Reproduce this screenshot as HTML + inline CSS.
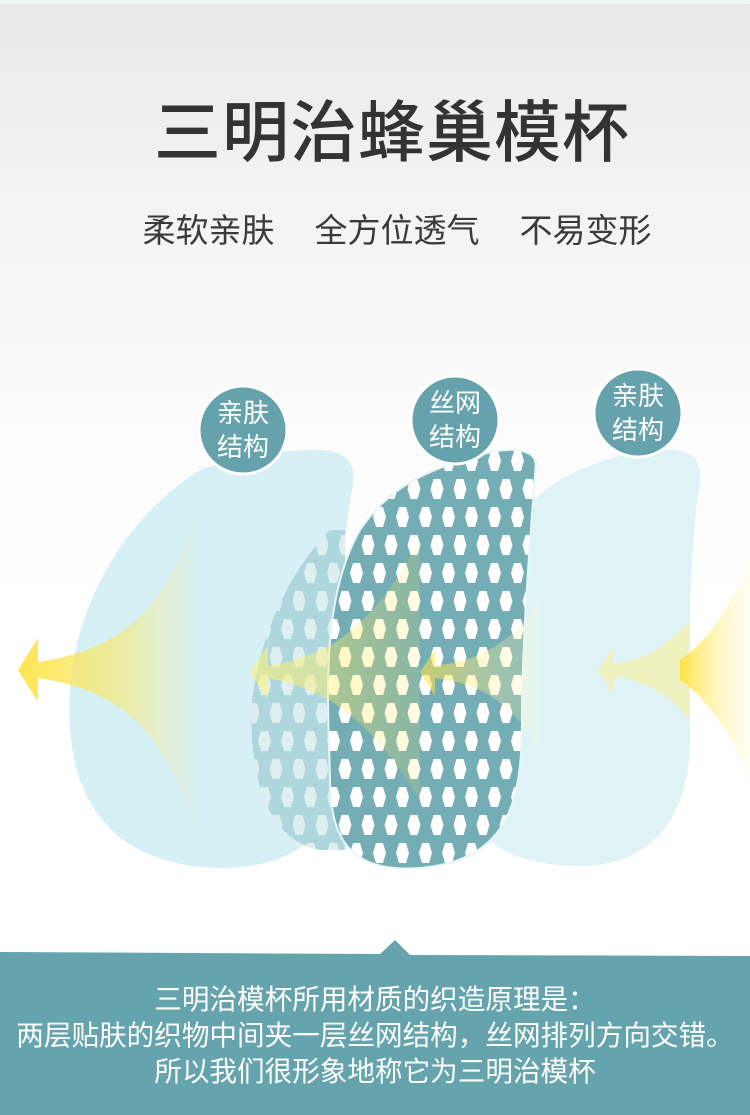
<!DOCTYPE html>
<html><head><meta charset="utf-8"><style>
html,body{margin:0;padding:0}
body{width:750px;height:1115px;position:relative;overflow:hidden;background:linear-gradient(#e9e9e9 0px,#f3f3f3 200px,#fbfbfb 400px,#fff 600px);font-family:"Liberation Sans","Noto Sans CJK SC",sans-serif}
.t{position:absolute;left:0;width:750px;text-align:center}
</style></head><body>
<div style="position:absolute;left:0;top:0;width:750px;height:4px;background:#eef5f3"></div>
<div class="t" style="top:96px;left:17px;font-size:67px;color:#333;letter-spacing:1px;line-height:76px;font-weight:500">三明治蜂巢模杯</div>
<div class="t" style="top:210px;left:22px;font-size:33px;color:#3a3a3a;line-height:42px">柔软亲肤<span style="display:inline-block;width:40px"></span>全方位透气<span style="display:inline-block;width:40px"></span>不易变形</div>
<svg width="750" height="1115" style="position:absolute;left:0;top:0">
<defs>
<pattern id="hex" x="0" y="0" width="23" height="56" patternUnits="userSpaceOnUse">
<polygon points="8,3 15,3 18,13 15,23 8,23 5,13" fill="#fff"/>
<polygon points="19.5,31 26.5,31 29.5,41 26.5,51 19.5,51 16.5,41" fill="#fff"/>
<polygon points="-3.5,31 3.5,31 6.5,41 3.5,51 -3.5,51 -6.5,41" fill="#fff"/>
</pattern>
<linearGradient id="ya" x1="0" x2="1"><stop offset="0" stop-color="#ffe23a"/><stop offset="0.6" stop-color="#f5e97a" stop-opacity=".7"/><stop offset="1" stop-color="#fff59a" stop-opacity="0"/></linearGradient>
<linearGradient id="yb" x1="0" x2="1"><stop offset="0" stop-color="#fff37a" stop-opacity=".9"/><stop offset="1" stop-color="#ffe850" stop-opacity=".2"/></linearGradient>
<linearGradient id="yc" x1="0" x2="1"><stop offset="0" stop-color="#ffe23a"/><stop offset="1" stop-color="#fffbd0" stop-opacity=".3"/></linearGradient>
<clipPath id="mc"><path d="M470,458 C500,448 530,445 536,462 C530,540 522,640 522,720 C522,800 510,860 420,868 C360,872 330,850 330,780 C328,700 320,600 360,530 C390,485 430,470 470,458 Z"/></clipPath>
<clipPath id="bc"><path d="M330,530 C300,560 262,620 252,700 C248,780 268,840 320,850 L345,850 L345,530 Z"/></clipPath>
</defs>
<path d="M310,450 C345,448 358,462 352,490 C340,560 338,650 340,750 C342,830 300,868 220,868 C140,866 78,830 70,730 C62,620 120,520 200,470 C240,455 280,451 310,450 Z" fill="#d7f0f5"/>
<path d="M660,450 C695,448 705,460 698,495 C690,560 688,640 690,730 C692,820 650,866 580,866 C500,866 450,830 448,740 C446,640 470,540 560,480 C600,458 630,452 660,450 Z" fill="#d9f1f6" opacity=".85"/>
<g clip-path="url(#bc)"><rect x="240" y="520" width="120" height="340" fill="#aed7dd"/><rect x="240" y="520" width="120" height="340" fill="url(#hex)" opacity=".6"/></g>
<g clip-path="url(#mc)"><rect x="320" y="440" width="230" height="440" fill="#74adb4"/><rect x="320" y="440" width="230" height="440" fill="url(#hex)"/></g>
<path d="M470,458 C500,448 530,445 536,462 C530,540 522,640 522,720 C522,800 510,860 420,868 C360,872 330,850 330,780 C328,700 320,600 360,530 C390,485 430,470 470,458 Z" fill="none" stroke="#e8f6f8" stroke-width="2"/>
<path d="M18,670 L38,638 L38,662 C120,650 170,610 200,500 L200,850 C170,730 120,690 38,678 L38,702 Z" fill="url(#ya)" opacity=".9"/>
<path d="M250,672 L268,645 L268,666 C330,655 370,630 420,540 L420,800 C370,720 330,690 268,678 L268,700 Z" fill="url(#yb)" opacity=".7"/>
<path d="M420,672 L435,650 L435,666 C480,660 510,645 540,600 L540,750 C510,700 480,684 435,678 L435,696 Z" fill="url(#yc)" opacity=".6"/>
<path d="M598,670 L614,646 L614,664 C640,660 665,650 690,620 L690,720 C665,690 640,680 614,676 L614,696 Z" fill="#f3f0b0" opacity=".8"/>
<path d="M680,660 C710,640 735,600 750,560 L750,780 C735,740 710,700 680,680 Z" fill="url(#yc)" opacity=".9"/>
<circle cx="243" cy="430" r="44" fill="#65a2ab" stroke="#fff" stroke-width="3"/>
<circle cx="455" cy="420" r="44" fill="#65a2ab" stroke="#fff" stroke-width="3"/>
<circle cx="638" cy="413" r="44" fill="#65a2ab" stroke="#fff" stroke-width="3"/>
<g font-family="Liberation Sans, Noto Sans CJK SC, sans-serif" font-size="26" fill="#fff" text-anchor="middle">
<text x="243" y="422">亲肤</text><text x="243" y="456">结构</text>
<text x="455" y="412">丝网</text><text x="455" y="446">结构</text>
<text x="638" y="405">亲肤</text><text x="638" y="439">结构</text>
</g>
<path d="M0,952 L380,954 L395,940 L410,955 L750,956 L750,1115 L0,1115 Z" fill="#65a4ad"/>
</svg>
<div class="t" style="top:982px;font-size:27.6px;color:#fff;line-height:36px;white-space:nowrap">三明治模杯所用材质的织造原理是：<br>两层贴肤的织物中间夹一层丝网结构，丝网排列方向交错。<br>所以我们很形象地称它为三明治模杯</div>
</body></html>
